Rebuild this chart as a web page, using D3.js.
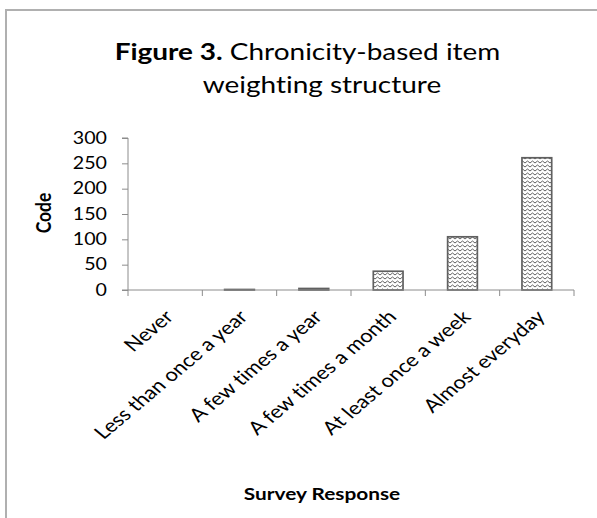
<!DOCTYPE html>
<html>
<head>
<meta charset="utf-8">
<script src="https://cdn.jsdelivr.net/npm/d3@7"></script>
<style>
  html, body { margin: 0; padding: 0; background: #fff; }
  svg { display: block; font-family: Lato, "Open Sans", sans-serif; font-variant-ligatures: none; }
</style>
</head>
<body>
<svg id="chart" width="597" height="518"></svg>
<script>
// Survey response categories and their chronicity-based weights
const categories = [
  "Never",
  "Less than once a year",
  "A few times a year",
  "A few times a month",
  "At least once a week",
  "Almost everyday"
];
const codes = [0, 1, 3, 37, 105, 261];
const yTicks = [0, 50, 100, 150, 200, 250, 300];

const titleBold = "Figure 3.";
const titleRest = " Chronicity-based item";
const titleLine2 = "weighting structure";
const yTitle = "Code";
const xTitle = "Survey Response";

// The chart is laid out on a horizontally widened canvas; text is widened to match
const stretch = 1.19;

const svg = d3.select("#chart");

// Hatch pattern: stacked zig-zag lines
const defs = svg.append("defs");
const pat = defs.append("pattern")
  .attr("id", "zigzag")
  .attr("patternUnits", "userSpaceOnUse")
  .attr("width", 5).attr("height", 4);
pat.append("rect").attr("width", 5).attr("height", 4).attr("fill", "#fff");
pat.append("path")
  .attr("d", "M0,3 L2.5,1 L5,3")
  .attr("fill", "none")
  .attr("stroke", "#505050")
  .attr("stroke-width", 0.9);

// Chart frame (left and top edges)
svg.append("path")
  .attr("d", "M6,518 L6,10 L597,10")
  .attr("fill", "none")
  .attr("stroke", "#b0b0b0")
  .attr("stroke-width", 2);

const plot = { left: 128, right: 574, top: 138, bottom: 290 };

const x = d3.scaleBand()
  .domain(categories)
  .range([plot.left, plot.right])
  .paddingInner(0.6)
  .paddingOuter(0.3);

const y = d3.scaleLinear()
  .domain([0, 300])
  .range([plot.bottom, plot.top]);

// Title
const title = svg.append("g").attr("fill", "#000").attr("font-size", 23.5);
const t1 = title.append("text")
  .attr("transform", `translate(307.5,60) scale(${stretch},1)`)
  .attr("text-anchor", "middle");
t1.append("tspan").attr("font-weight", 700).text(titleBold);
t1.append("tspan").text(titleRest);
title.append("text")
  .attr("transform", `translate(322,93) scale(${stretch},1)`)
  .attr("text-anchor", "middle")
  .text(titleLine2);

// Y axis
const tickLen = 6, tickPad = 15;
const yAxis = svg.append("g")
  .attr("transform", `translate(${plot.left},0)`)
  .call(d3.axisLeft(y).tickValues(yTicks).tickSize(tickLen).tickPadding(tickPad).tickFormat(d3.format("d")));
yAxis.select(".domain").attr("stroke", "#8c8c8c").attr("d", `M-${tickLen},${plot.top}H0V${plot.bottom}H-${tickLen}`);
yAxis.selectAll(".tick line").attr("stroke", "#8c8c8c");
yAxis.selectAll(".tick text")
  .attr("x", 0)
  .attr("transform", `translate(${-(tickLen + tickPad)},0) scale(${stretch},1)`)
  .attr("font-size", 16.5)
  .attr("font-family", "Lato, sans-serif")
  .attr("fill", "#000");

// Bars
svg.append("g").selectAll("rect")
  .data(categories.map((c, i) => ({ c, v: codes[i] })))
  .join("rect")
  .attr("x", d => x(d.c))
  .attr("width", x.bandwidth())
  .attr("y", d => y(d.v))
  .attr("height", d => y(0) - y(d.v))
  .attr("fill", "url(#zigzag)")
  .attr("stroke", "#606060")
  .attr("stroke-width", 1.7);

// X axis: baseline with ticks at category boundaries
const xAxis = svg.append("g").attr("transform", `translate(0,${plot.bottom})`);
xAxis.append("line")
  .attr("x1", plot.left).attr("x2", plot.right)
  .attr("stroke", "#8c8c8c");
const boundaries = d3.range(categories.length + 1).map(i => plot.left + i * x.step());
xAxis.selectAll(".bt").data(boundaries).join("line")
  .attr("class", "bt")
  .attr("x1", d => d).attr("x2", d => d)
  .attr("y1", 0).attr("y2", 6)
  .attr("stroke", "#8c8c8c");

// Slanted category labels
svg.append("g").selectAll("text")
  .data(categories)
  .join("text")
  .attr("transform", d => `translate(${x(d) + x.bandwidth() / 2 + 9.5},${plot.bottom + 28}) scale(${stretch},1) rotate(-45)`)
  .attr("text-anchor", "end")
  .attr("font-size", 18.5)
  .attr("fill", "#000")
  .text(d => d);

// Axis titles
svg.append("text")
  .attr("transform", `translate(51,213) scale(${stretch},1) rotate(-90)`)
  .attr("text-anchor", "middle")
  .attr("font-size", 17.5)
  .attr("font-weight", 700)
  .text(yTitle);

svg.append("text")
  .attr("transform", `translate(322,500) scale(${stretch},1)`)
  .attr("text-anchor", "middle")
  .attr("font-size", 17.5)
  .attr("font-weight", 700)
  .text(xTitle);
</script>
</body>
</html>
